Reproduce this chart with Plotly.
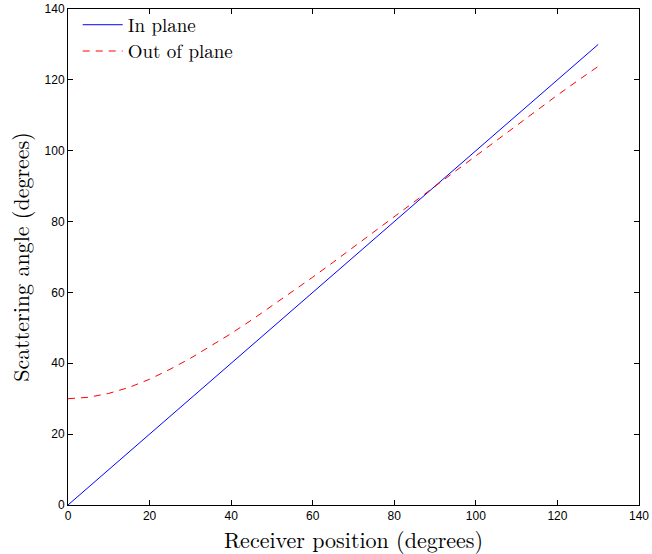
import plotly.graph_objects as go

receiver_deg = [0, 5, 10, 15, 20, 25, 30, 35, 40, 45, 50, 55, 60, 65, 70, 75, 80, 85, 90,
                95, 100, 105, 110, 115, 120, 125, 130]
in_plane = [0, 5, 10, 15, 20, 25, 30, 35, 40, 45, 50, 55, 60, 65, 70, 75, 80, 85, 90,
            95, 100, 105, 110, 115, 120, 125, 130]
out_of_plane = [30.0, 30.4, 31.5, 33.2, 35.5, 38.3, 41.4, 44.8, 48.4, 52.2, 56.2, 60.2,
                64.3, 68.5, 72.8, 77.0, 81.3, 85.7, 90.0, 94.3, 98.6, 102.9, 107.2,
                111.5, 115.7, 119.8, 123.8]
x_ticks = [0, 20, 40, 60, 80, 100, 120, 140]
y_ticks = [0, 20, 40, 60, 80, 100, 120, 140]

serif = "Latin Modern Roman, CMU Serif, Liberation Serif, DejaVu Serif, serif"
sans = "Liberation Sans, Arial, sans-serif"

fig = go.Figure()
fig.add_trace(go.Scatter(x=receiver_deg, y=in_plane, mode="lines", name="In plane",
                         line=dict(color="#0000ff", width=1), legend="legend"))
fig.add_trace(go.Scatter(x=receiver_deg, y=out_of_plane, mode="lines", name="Out of plane",
                         line=dict(color="#ff0000", width=1, dash="7px,6px"),
                         legend="legend2"))

axis_common = dict(showgrid=False, zeroline=False, showline=True, linecolor="black",
                   linewidth=1, mirror="ticks", ticks="inside", ticklen=5,
                   tickcolor="black", tickfont=dict(family=sans, size=12, color="black"),
                   range=[0, 140], automargin=False)
fig.update_xaxes(**axis_common, tickvals=x_ticks,
                 title=dict(text="Receiver position (degrees)",
                            font=dict(family=serif, size=22, color="black"), standoff=4))
fig.update_yaxes(**axis_common, tickvals=y_ticks,
                 title=dict(text="Scattering angle (degrees)",
                            font=dict(family=serif, size=22, color="black"), standoff=8))

legend_common = dict(x=0.017, xanchor="left", yanchor="middle",
                     bgcolor="rgba(0,0,0,0)", borderwidth=0,
                     font=dict(family=serif, size=19, color="black"),
                     tracegroupgap=0, itemwidth=40)

fig.update_layout(
    template="none",
    width=652, height=554,
    margin=dict(l=68, r=13, t=9, b=49, pad=0, autoexpand=False),
    plot_bgcolor="white", paper_bgcolor="white",
    showlegend=True,
    legend=dict(**legend_common, y=0.968),
    legend2=dict(**legend_common, y=0.915),
)
fig.write_html("out.html")
